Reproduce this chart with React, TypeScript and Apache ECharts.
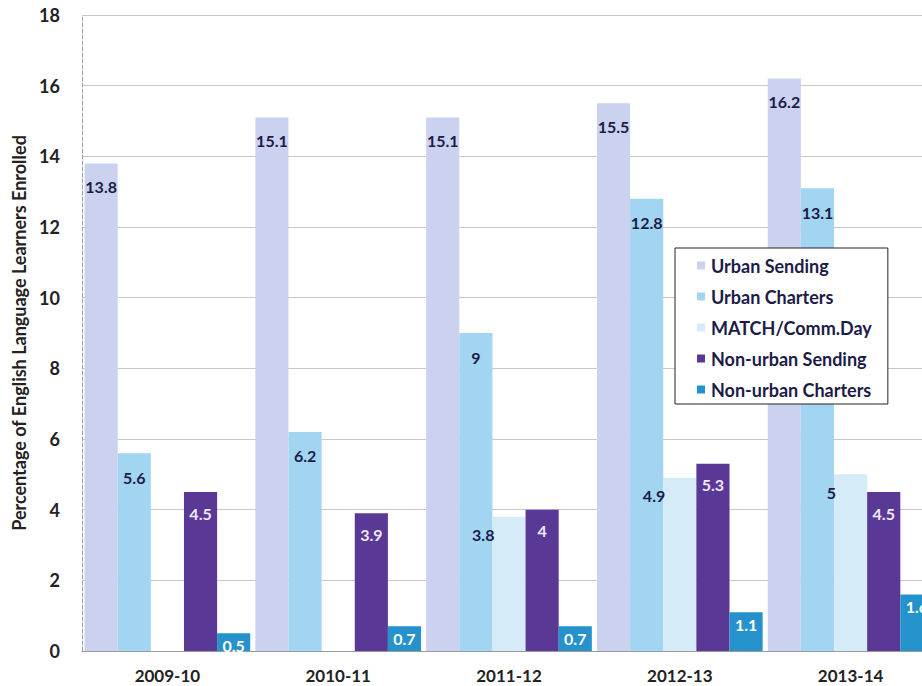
import React, { useEffect, useRef } from "react";
import * as echarts from "echarts";

const categories = ["2009-10", "2010-11", "2011-12", "2012-13", "2013-14"];
const urbanSending = [13.8, 15.1, 15.1, 15.5, 16.2];
const urbanCharters = [5.6, 6.2, 9, 12.8, 13.1];
const matchCommDay = [null, null, 3.8, 4.9, 5];
const nonUrbanSending = [4.5, 3.9, 4, 5.3, 4.5];
const nonUrbanCharters = [0.5, 0.7, 0.7, 1.1, 1.6];

const FONT = "Lato, 'Open Sans', sans-serif";
const DARK = "#1c1c48";

export default function App() {
  const ref = useRef<HTMLDivElement>(null);
  useEffect(() => {
    if (!ref.current) return;
    const chart = echarts.init(ref.current, null, { renderer: "svg" });
    const baseLabel = {
      show: true,
      fontFamily: FONT,
      fontWeight: "bold" as const,
      fontSize: 16,
    };
    chart.setOption({
      animation: false,
      backgroundColor: "#ffffff",
      grid: { left: 82, right: 24, top: 15, bottom: 35, containLabel: false },
      legend: {
        orient: "vertical",
        left: 675,
        top: 248,
        itemWidth: 8,
        itemHeight: 8,
        itemGap: 12,
        icon: "rect",
        padding: [8, 16, 5, 22],
        backgroundColor: "#ffffff",
        borderColor: "#222222",
        borderWidth: 1,
        textStyle: { fontFamily: FONT, fontWeight: "bold", fontSize: 18, lineHeight: 19, color: DARK, padding: [0, 0, 0, 1] },
        data: ["Urban Sending", "Urban Charters", "MATCH/Comm.Day", "Non-urban Sending", "Non-urban Charters"],
      },
      xAxis: {
        type: "category",
        data: categories,
        axisLine: { show: true, lineStyle: { color: "#9a9a9a", width: 1 } },
        axisTick: { show: false },
        axisLabel: { fontFamily: FONT, fontWeight: "bold", fontSize: 17, color: "#222", margin: 16 },
      },
      yAxis: {
        type: "value",
        min: 0,
        max: 18,
        interval: 2,
        name: "Percentage of English Language Learners Enrolled",
        nameLocation: "middle",
        nameGap: 47,
        nameRotate: 90,
        nameTextStyle: { fontFamily: FONT, fontWeight: "bold", fontSize: 18, color: "#222" },
        axisLine: { show: true, lineStyle: { color: "#a0a0a0", width: 1, type: "dashed" } },
        axisTick: { show: false },
        axisLabel: { fontFamily: FONT, fontWeight: "bold", fontSize: 18, color: "#222", margin: 22 },
        splitLine: { show: true, lineStyle: { color: "#c8c8c8", width: 1 } },
      },
      series: [
        {
          name: "Urban Sending",
          type: "bar",
          data: urbanSending,
          barGap: "0%",
          barCategoryGap: "3%",
          itemStyle: { color: "#cbd2ef" },
          label: { ...baseLabel, position: "insideTop", distance: 15, color: DARK },
        },
        {
          name: "Urban Charters",
          type: "bar",
          data: urbanCharters,
          barGap: "0%",
          barCategoryGap: "3%",
          itemStyle: { color: "#a2d5f2" },
          label: { ...baseLabel, position: "insideTop", distance: 16, color: DARK },
        },
        {
          name: "MATCH/Comm.Day",
          type: "bar",
          data: matchCommDay,
          barGap: "0%",
          barCategoryGap: "3%",
          itemStyle: { color: "#d6ebf8" },
          label: {
            ...baseLabel,
            position: [2, 10],
            align: "right",
            verticalAlign: "top",
            color: DARK,
          },
        },
        {
          name: "Non-urban Sending",
          type: "bar",
          data: nonUrbanSending,
          barGap: "0%",
          barCategoryGap: "3%",
          itemStyle: { color: "#5a3896" },
          label: { ...baseLabel, position: "insideTop", distance: 13, color: "#eeeafc" },
        },
        {
          name: "Non-urban Charters",
          type: "bar",
          data: nonUrbanCharters,
          barGap: "0%",
          barCategoryGap: "3%",
          itemStyle: { color: "#2592cc" },
          label: { ...baseLabel, position: "insideTop", distance: 4, color: "#ffffff" },
        },
      ],
    });
    return () => chart.dispose();
  }, []);
  return (
    <div
      ref={ref}
      style={{ position: "fixed", left: 0, top: 0, width: 960, height: 686, background: "#fff" }}
    />
  );
}
